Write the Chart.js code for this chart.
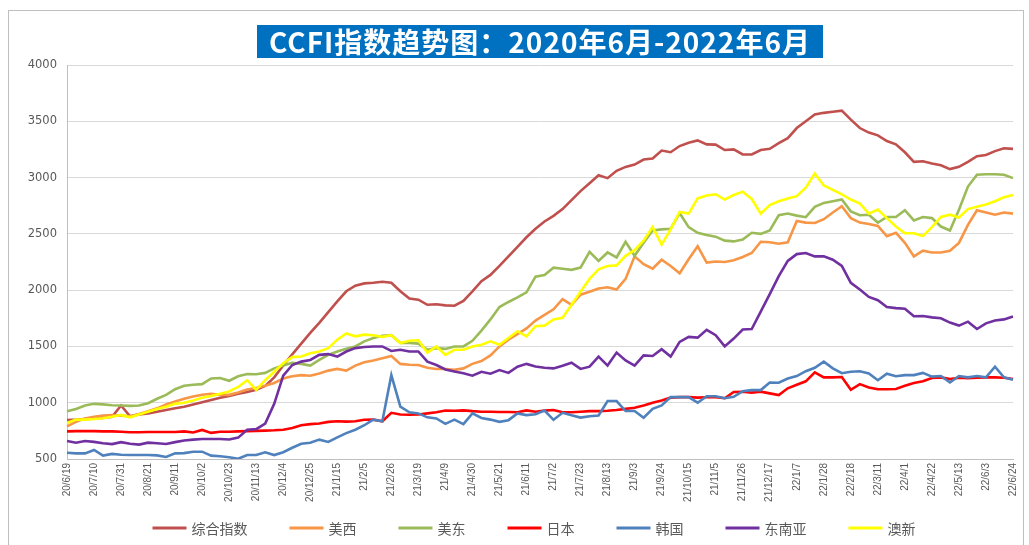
<!DOCTYPE html>
<html>
<head>
<meta charset="utf-8">
<script src="https://cdn.jsdelivr.net/npm/chart.js@4/dist/chart.umd.min.js"></script>
<style>
  html, body { margin: 0; padding: 0; background: #fff; }
  #wrap { position: relative; width: 1029px; height: 545px; overflow: hidden; }
  #frame {
    position: absolute; left: 8px; top: 10px; width: 1016px; height: 560px;
    border: 1px solid #BFBFBF; box-sizing: border-box;
  }
  #title {
    position: absolute; left: 257px; top: 25px; width: 566px; height: 33px;
    background: #0070C0; color: #fff; text-align: center; letter-spacing: 1px;
    font: bold 28px "Noto Sans CJK SC", sans-serif; line-height: 33px;
  }
  canvas { position: absolute; left: 0; top: 0; }
</style>
</head>
<body>
<div id="wrap">
  <div id="frame"></div>
  <canvas id="chart" width="1029" height="545"></canvas>
  <div id="title">CCFI指数趋势图：2020年6月-2022年6月</div>
</div>
<script>
// weekly dates, 2020/6/19 - 2022/6/24
const weeks = [
  '20/6/19','20/6/26','20/7/3','20/7/10','20/7/17','20/7/24','20/7/31','20/8/7','20/8/14','20/8/21',
  '20/8/28','20/9/4','20/9/11','20/9/18','20/9/25','20/10/2','20/10/9','20/10/16','20/10/23','20/10/30',
  '20/11/6','20/11/13','20/11/20','20/11/27','20/12/4','20/12/11','20/12/18','20/12/25','21/1/1','21/1/8',
  '21/1/15','21/1/22','21/1/29','21/2/5','21/2/12','21/2/19','21/2/26','21/3/5','21/3/12','21/3/19',
  '21/3/26','21/4/2','21/4/9','21/4/16','21/4/23','21/4/30','21/5/7','21/5/14','21/5/21','21/5/28',
  '21/6/4','21/6/11','21/6/18','21/6/25','21/7/2','21/7/9','21/7/16','21/7/23','21/7/30','21/8/6',
  '21/8/13','21/8/20','21/8/27','21/9/3','21/9/10','21/9/17','21/9/24','21/10/1','21/10/8','21/10/15',
  '21/10/22','21/10/29','21/11/5','21/11/12','21/11/19','21/11/26','21/12/3','21/12/10','21/12/17','21/12/24',
  '21/12/31','22/1/7','22/1/14','22/1/21','22/1/28','22/2/4','22/2/11','22/2/18','22/2/25','22/3/4',
  '22/3/11','22/3/18','22/3/25','22/4/1','22/4/8','22/4/15','22/4/22','22/4/29','22/5/6','22/5/13',
  '22/5/20','22/5/27','22/6/3','22/6/10','22/6/17','22/6/24'
];

const seriesNames = ['综合指数', '美西', '美东', '日本', '韩国', '东南亚', '澳新'];
const yTicks = [500, 1000, 1500, 2000, 2500, 3000, 3500, 4000];

const composite = [
  847, 850, 855, 860, 865, 875, 975, 880, 895, 905, 920, 935, 950, 965, 985, 1005, 1025, 1045, 1060,
  1080, 1095, 1115, 1150, 1225, 1330, 1430, 1525, 1620, 1710, 1805, 1900, 1990, 2040, 2060, 2065, 2075, 2065, 1990,
  1925, 1915, 1870, 1875, 1865, 1862, 1905, 1990, 2080, 2135, 2215, 2300, 2385, 2470, 2545, 2610,
  2660, 2720, 2800, 2880, 2950, 3020, 2995, 3060, 3095, 3115, 3160, 3170, 3240, 3225, 3280, 3310, 3330, 3295,
  3293, 3245, 3250, 3205, 3205, 3245, 3255, 3305, 3350, 3440, 3500, 3560, 3575, 3585, 3595, 3515, 3440, 3400,
  3375, 3325, 3295, 3225, 3140, 3145, 3125, 3110, 3075, 3095, 3140, 3190, 3200, 3235, 3260, 3255
];
const usWest = [
  790, 830, 860, 875, 885, 890, 885, 880, 900, 925, 950, 985, 1010, 1035, 1055, 1070, 1080, 1070, 1070,
  1090, 1118, 1130, 1150, 1175, 1215, 1235, 1245, 1240, 1260, 1285, 1300, 1285, 1330, 1360,
  1375, 1395, 1415, 1345, 1337, 1335, 1310, 1300, 1300, 1292, 1305, 1345, 1370, 1420, 1500, 1560, 1610, 1660, 1730, 1780,
  1830, 1920, 1870, 1960, 1985, 2015, 2025, 2005, 2100, 2300, 2230, 2190, 2270, 2215, 2150, 2275, 2390, 2245,
  2255, 2250, 2265, 2295, 2330, 2430, 2425, 2412, 2425, 2615, 2600, 2596, 2630, 2690, 2745, 2640,
  2600, 2587, 2570, 2480, 2510, 2420, 2300, 2350, 2335, 2335, 2350, 2420, 2580, 2710, 2690, 2670, 2690, 2680
];
const usEast = [
  925, 945, 975, 990, 985, 978, 975, 972, 975, 995, 1035, 1070, 1120, 1150, 1160, 1165, 1215, 1220,
  1195, 1235, 1255, 1253, 1265, 1305, 1330, 1355, 1345, 1330, 1380, 1425, 1455, 1480, 1500, 1545,
  1575, 1595, 1600, 1530, 1530, 1525, 1470, 1485, 1478, 1500, 1500, 1550, 1640, 1740, 1850, 1895, 1935, 1980, 2120,
  2135, 2200, 2190, 2180, 2200, 2340, 2260, 2335, 2290, 2430, 2305, 2420, 2530, 2540, 2545, 2685, 2560, 2510,
  2490, 2475, 2440, 2433, 2450, 2510, 2500, 2530, 2665, 2680, 2662, 2648, 2740, 2775, 2790, 2805, 2700,
  2665, 2670, 2600, 2650, 2650, 2710, 2620, 2650, 2640, 2565, 2530, 2715, 2920, 3025, 3030, 3030, 3025, 2995
];
const japan = [
  745, 748, 748, 748, 745, 745, 742, 738, 738, 740, 740, 740, 740, 745, 735, 758, 732, 742, 742,
  745, 748, 750, 752, 755, 760, 775, 800, 810, 815, 830, 835, 832, 835, 848,
  850, 835, 910, 895, 893, 895, 905, 915, 930, 928, 932, 925, 920, 920, 918, 918, 915, 932, 920,
  930, 935, 915, 915, 920, 925, 925, 928, 935, 945, 955, 975, 1000, 1020, 1045, 1050, 1050, 1045, 1048,
  1050, 1040, 1095, 1098, 1090, 1098, 1083, 1068, 1128, 1160, 1190, 1270, 1225, 1225, 1228, 1115,
  1165, 1135, 1120, 1120, 1122, 1150, 1175, 1190, 1220, 1225, 1210, 1222, 1218, 1222, 1225, 1225, 1222, 1210
];
const korea = [
  555, 550, 550, 580, 530, 545, 538, 535, 535, 535, 532, 518, 550, 552, 565, 565, 530, 525, 515,
  502, 535, 535, 560, 535, 560, 600, 635, 645, 672, 652, 692, 730, 760, 800, 850, 835,
  1245, 965, 915, 905, 870, 860, 812, 850, 810, 905, 865, 850, 830, 845, 905, 890, 898,
  930, 848, 910, 888, 868, 880, 887, 1015, 1015, 926, 926, 866, 945, 976, 1050, 1050, 1050, 1000, 1058,
  1058, 1040, 1052, 1102, 1112, 1112, 1180, 1178, 1215, 1237, 1280, 1310, 1365, 1305, 1262, 1275,
  1280, 1260, 1200, 1258, 1235, 1245, 1245, 1265, 1232, 1237, 1180, 1237, 1225, 1237, 1225, 1320, 1225, 1205
];
const seAsia = [
  660, 645, 660, 652, 640, 632, 650, 635, 628, 645, 640, 633, 650, 665, 672, 677, 677, 678, 673,
  690, 760, 765, 815, 990, 1240, 1335, 1365, 1380, 1425, 1432, 1410, 1455, 1485, 1495, 1500, 1500,
  1460, 1470, 1455, 1455, 1365, 1335, 1295, 1278, 1262, 1240, 1275, 1258, 1290, 1265, 1320, 1345, 1322, 1310,
  1305, 1328, 1355, 1300, 1320, 1410, 1330, 1445, 1375, 1330, 1420, 1415, 1475, 1410, 1540, 1585, 1578, 1648,
  1600, 1500, 1570, 1650, 1655, 1810, 1965, 2125, 2260, 2320, 2330, 2300, 2300, 2270, 2215, 2065, 2005, 1940,
  1910, 1850, 1840, 1835, 1768, 1770, 1758, 1750, 1712, 1685, 1720, 1655, 1705, 1730, 1740, 1765
];
const ausNz = [
  820, 850, 850, 855, 862, 875, 892, 870, 895, 920, 945, 965, 990, 1000, 1020, 1045, 1060, 1080, 1100,
  1140, 1200, 1115, 1200, 1275, 1350, 1405, 1410, 1440, 1455, 1485, 1560, 1615, 1590, 1605,
  1600, 1585, 1600, 1530, 1550, 1555, 1445, 1500, 1425, 1470, 1470, 1500, 1515, 1545, 1515, 1575, 1635, 1590, 1680, 1685,
  1740, 1755, 1870, 1985, 2100, 2185, 2215, 2220, 2305, 2355, 2440, 2560, 2405, 2540, 2695, 2680, 2815,
  2840, 2852, 2805, 2845, 2875, 2810, 2680, 2755, 2790, 2815, 2835, 2910, 3035, 2930, 2890, 2850, 2805, 2770, 2680,
  2715, 2640, 2565, 2505, 2505, 2480, 2560, 2650, 2670, 2645, 2720, 2740, 2760, 2790, 2825, 2845
];

const seriesData = [composite, usWest, usEast, japan, korea, seAsia, ausNz];
const seriesColors = ['#C0504D', '#F79646', '#9BBB59', '#FF0000', '#4F81BD', '#7030A0', '#FFFF00'];

// legend drawn as short lines, spread out like the Excel original
const lineLegend = {
  id: 'lineLegend',
  afterDraw(chart) {
    const ctx = chart.ctx;
    const lineLen = 34, gap = 5, spacing = 42, y = 528;
    ctx.save();
    ctx.font = '14px "Noto Sans CJK SC"';
    const items = chart.data.datasets.map(ds => ({
      text: ds.label, color: ds.borderColor, w: lineLen + gap + ctx.measureText(ds.label).width
    }));
    const total = items.reduce((s, it) => s + it.w, 0) + spacing * (items.length - 1);
    let x = 534 - total / 2;
    ctx.textBaseline = 'middle';
    ctx.fillStyle = '#595959';
    items.forEach(it => {
      ctx.strokeStyle = it.color;
      ctx.lineWidth = 3;
      ctx.beginPath();
      ctx.moveTo(x, y);
      ctx.lineTo(x + lineLen, y);
      ctx.stroke();
      ctx.fillText(it.text, x + lineLen + gap, y + 1);
      x += it.w + spacing;
    });
    ctx.restore();
  }
};

new Chart(document.getElementById('chart'), {
  type: 'line',
  data: {
    labels: weeks,
    datasets: seriesData.map((values, i) => ({
      label: seriesNames[i],
      data: values,
      borderColor: seriesColors[i],
      backgroundColor: seriesColors[i],
      borderWidth: 2.6,
      pointRadius: 0,
      tension: 0,
      order: seriesData.length - 1 - i,
    })),
  },
  options: {
    responsive: false,
    animation: false,
    layout: { padding: { top: 65, right: 15, left: 0, bottom: 0 } },
    plugins: {
      legend: { display: false },
      tooltip: { enabled: false },
    },
    scales: {
      x: {
        afterFit(scale) { scale.height = 86; },
        grid: { display: false, drawTicks: false },
        border: { display: true, color: '#BFBFBF', width: 1 },
        ticks: {
          autoSkip: false,
          minRotation: 90,
          maxRotation: 90,
          padding: 4,
          color: '#595959',
          font: { family: '"Liberation Sans"', size: 10 },
          callback: (v, i) => (i % 3 === 0 ? weeks[i] : ''),
        },
      },
      y: {
        min: yTicks[0],
        max: yTicks[yTicks.length - 1],
        afterFit(scale) { scale.width = 67; },
        afterBuildTicks(scale) { scale.ticks = yTicks.map(v => ({ value: v })); },
        grid: { color: '#D9D9D9', drawTicks: false },
        border: { display: true, color: '#BFBFBF', width: 1 },
        ticks: {
          padding: 10,
          color: '#595959',
          font: { family: '"DejaVu Sans"', size: 11.5 },
          callback: v => String(v),
        },
      },
    },
  },
  plugins: [lineLegend],
});
</script>
</body>
</html>
